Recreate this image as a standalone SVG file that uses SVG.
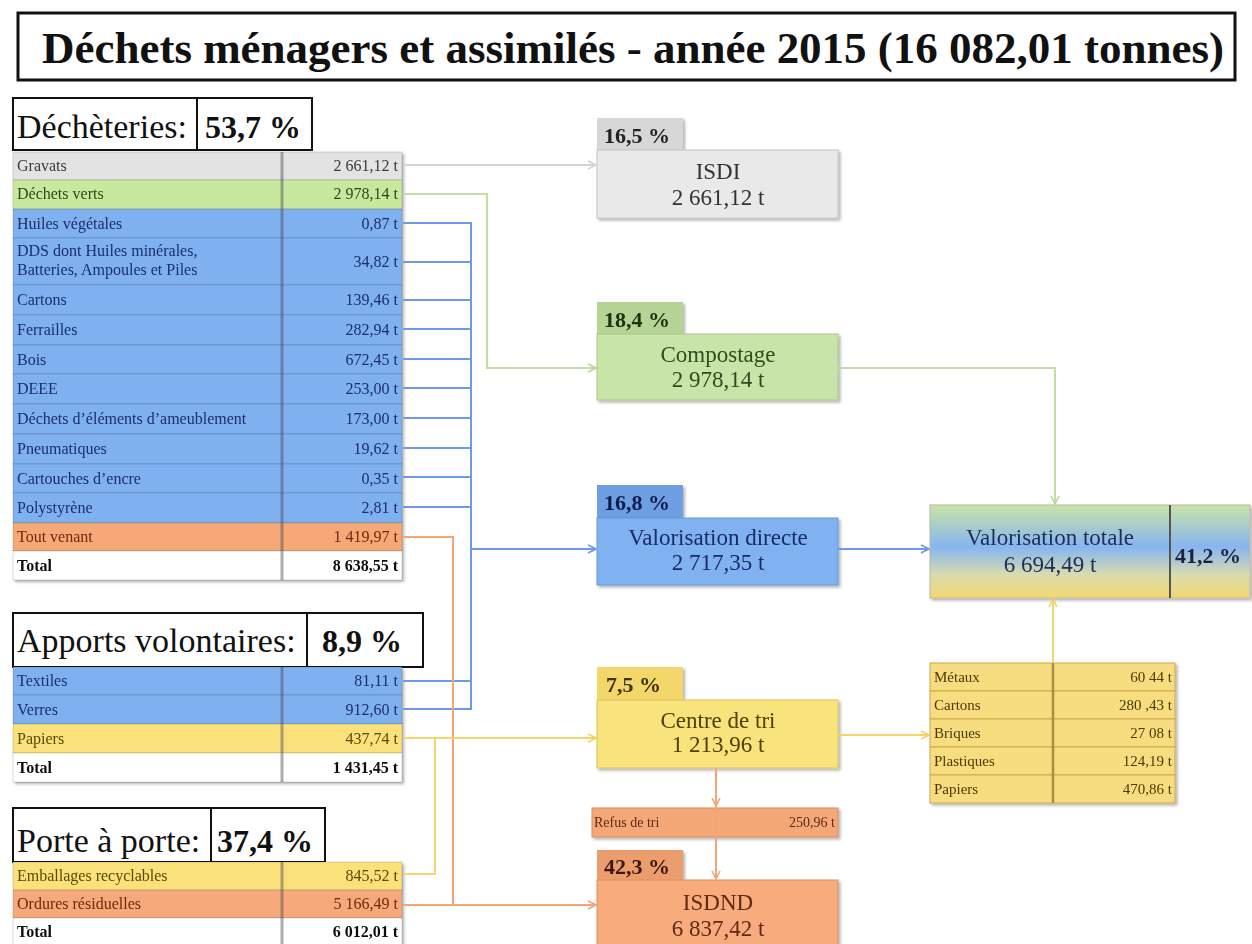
<svg xmlns="http://www.w3.org/2000/svg" width="1252" height="944" viewBox="0 0 1252 944">
<style>
text{font-family:"Liberation Serif","Times New Roman",serif}
.row{font-size:16px}
.val{font-size:16px;text-anchor:end}
.b{font-weight:bold}
.hdr{font-size:34px;fill:#111}
.hdrp{font-size:32px;font-weight:bold;fill:#111}
.hbox{fill:#fff;stroke:#111;stroke-width:2}
.tab{font-size:22px;font-weight:bold}
.bt{font-size:23px;text-anchor:middle}
.sep{stroke:rgba(0,0,0,0.14);stroke-width:1}
.div{stroke:rgba(70,70,80,0.45);stroke-width:3}
.blue rect{fill:#7fb1f1}
.blue text{fill:#1b2e6c}
.ln{fill:none;stroke-width:2}
.rt{font-size:15px;fill:#4a3a00}
.rv{font-size:15px;fill:#4a3a00;text-anchor:end}
</style>
<defs>
<filter id="sh" x="-5%" y="-5%" width="115%" height="125%">
<feDropShadow dx="2" dy="2" stdDeviation="1.5" flood-color="#000" flood-opacity="0.3"/>
</filter>
<linearGradient id="vt" x1="0" y1="0" x2="0" y2="1">
<stop offset="0" stop-color="#cae4a6"/>
<stop offset="0.45" stop-color="#86b5f0"/>
<stop offset="0.75" stop-color="#d9dcae"/>
<stop offset="1" stop-color="#f4d872"/>
</linearGradient>
<marker id="aGrey" markerUnits="userSpaceOnUse" markerWidth="10" markerHeight="10" refX="9" refY="5" orient="auto"><path d="M1,1 L9,5 L1,9" fill="none" stroke="#d4d4d4" stroke-width="1.6"/></marker>
<marker id="aGreen" markerUnits="userSpaceOnUse" markerWidth="10" markerHeight="10" refX="9" refY="5" orient="auto"><path d="M1,1 L9,5 L1,9" fill="none" stroke="#b9d699" stroke-width="1.6"/></marker>
<marker id="aBlue" markerUnits="userSpaceOnUse" markerWidth="10" markerHeight="10" refX="9" refY="5" orient="auto"><path d="M1,1 L9,5 L1,9" fill="none" stroke="#6d9ae6" stroke-width="1.6"/></marker>
<marker id="aOrange" markerUnits="userSpaceOnUse" markerWidth="10" markerHeight="10" refX="9" refY="5" orient="auto"><path d="M1,1 L9,5 L1,9" fill="none" stroke="#f2a577" stroke-width="1.6"/></marker>
<marker id="aYellow" markerUnits="userSpaceOnUse" markerWidth="10" markerHeight="10" refX="9" refY="5" orient="auto"><path d="M1,1 L9,5 L1,9" fill="none" stroke="#f3d065" stroke-width="1.6"/></marker>
</defs>
<rect width="1252" height="944" fill="#fff"/>

<g id="title">
<rect x="18" y="13" width="1217" height="67" fill="#fff" stroke="#111" stroke-width="3"/>
<text x="42" y="63" font-size="45" font-weight="bold" fill="#111" textLength="1182" lengthAdjust="spacingAndGlyphs">Déchets ménagers et assimilés - année 2015 (16 082,01 tonnes)</text>
</g>

<g id="dechetteries-header">
<rect class="hbox" x="13" y="98" width="299" height="52"/>
<line x1="197" y1="98" x2="197" y2="150" stroke="#111" stroke-width="2"/>
<text class="hdr" x="17" y="138">Déchèteries:</text>
<text class="hdrp" x="205" y="138">53,7 %</text>
</g>

<g id="dechetteries-table" filter="url(#sh)">
<rect x="13" y="152" width="389" height="28" fill="#e3e3e3" class="sep"/>
<text class="row" x="17" y="171" fill="#3a3a3a">Gravats</text><text class="val" x="398" y="171" fill="#3a3a3a">2 661,12 t</text>
<rect x="13" y="180" width="389" height="29" fill="#c8e89e" class="sep"/>
<text class="row" x="17" y="199" fill="#2e4a18">Déchets verts</text><text class="val" x="398" y="199" fill="#2e4a18">2 978,14 t</text>
<g class="blue">
<rect x="13" y="209" width="389" height="29" class="sep"/>
<text class="row" x="17" y="229">Huiles végétales</text><text class="val" x="398" y="229">0,87 t</text>
<rect x="13" y="238" width="389" height="47" class="sep"/>
<text class="row" x="17" y="256">DDS dont Huiles minérales,</text><text class="row" x="17" y="275">Batteries, Ampoules et Piles</text><text class="val" x="398" y="267">34,82 t</text>
<rect x="13" y="285" width="389" height="30" class="sep"/>
<text class="row" x="17" y="305">Cartons</text><text class="val" x="398" y="305">139,46 t</text>
<rect x="13" y="315" width="389" height="30" class="sep"/>
<text class="row" x="17" y="335">Ferrailles</text><text class="val" x="398" y="335">282,94 t</text>
<rect x="13" y="345" width="389" height="29" class="sep"/>
<text class="row" x="17" y="365">Bois</text><text class="val" x="398" y="365">672,45 t</text>
<rect x="13" y="374" width="389" height="30" class="sep"/>
<text class="row" x="17" y="394">DEEE</text><text class="val" x="398" y="394">253,00 t</text>
<rect x="13" y="404" width="389" height="30" class="sep"/>
<text class="row" x="17" y="424">Déchets d’éléments d’ameublement</text><text class="val" x="398" y="424">173,00 t</text>
<rect x="13" y="434" width="389" height="30" class="sep"/>
<text class="row" x="17" y="454">Pneumatiques</text><text class="val" x="398" y="454">19,62 t</text>
<rect x="13" y="464" width="389" height="29" class="sep"/>
<text class="row" x="17" y="484">Cartouches d’encre</text><text class="val" x="398" y="484">0,35 t</text>
<rect x="13" y="493" width="389" height="30" class="sep"/>
<text class="row" x="17" y="513">Polystyrène</text><text class="val" x="398" y="513">2,81 t</text>
</g>
<rect x="13" y="523" width="389" height="28" fill="#f6a877" class="sep"/>
<text class="row" x="17" y="542" fill="#6e2a0c">Tout venant</text><text class="val" x="398" y="542" fill="#6e2a0c">1 419,97 t</text>
<rect x="13" y="551" width="389" height="29" fill="#fff" class="sep"/>
<text class="row b" x="17" y="571" fill="#111">Total</text><text class="val b" x="398" y="571" fill="#111">8 638,55 t</text>
<line class="div" x1="282" y1="152" x2="282" y2="580"/>
</g>

<g id="apports-header">
<rect class="hbox" x="13" y="613" width="410" height="54"/>
<line x1="307" y1="613" x2="307" y2="667" stroke="#111" stroke-width="2"/>
<text class="hdr" x="17" y="652">Apports volontaires:</text>
<text class="hdrp" x="322" y="652">8,9 %</text>
</g>

<g id="apports-table" filter="url(#sh)">
<g class="blue">
<rect x="13" y="667" width="389" height="28" class="sep"/>
<text class="row" x="17" y="686">Textiles</text><text class="val" x="398" y="686">81,11 t</text>
<rect x="13" y="695" width="389" height="29" class="sep"/>
<text class="row" x="17" y="715">Verres</text><text class="val" x="398" y="715">912,60 t</text>
</g>
<rect x="13" y="724" width="389" height="29" fill="#fbe17c" class="sep"/>
<text class="row" x="17" y="744" fill="#5a4800">Papiers</text><text class="val" x="398" y="744" fill="#5a4800">437,74 t</text>
<rect x="13" y="753" width="389" height="29" fill="#fff" class="sep"/>
<text class="row b" x="17" y="773" fill="#111">Total</text><text class="val b" x="398" y="773" fill="#111">1 431,45 t</text>
<line class="div" x1="282" y1="667" x2="282" y2="782"/>
</g>

<g id="porte-header">
<rect class="hbox" x="13" y="808" width="312" height="54"/>
<line x1="211" y1="808" x2="211" y2="862" stroke="#111" stroke-width="2"/>
<text class="hdr" x="17" y="852">Porte à porte:</text>
<text class="hdrp" x="217" y="852">37,4 %</text>
</g>

<g id="porte-table" filter="url(#sh)">
<rect x="13" y="862" width="389" height="28" fill="#fbe17c" class="sep"/>
<text class="row" x="17" y="881" fill="#5a4800">Emballages recyclables</text><text class="val" x="398" y="881" fill="#5a4800">845,52 t</text>
<rect x="13" y="890" width="389" height="28" fill="#f6aa7c" class="sep"/>
<text class="row" x="17" y="909" fill="#6e2a0c">Ordures résiduelles</text><text class="val" x="398" y="909" fill="#6e2a0c">5 166,49 t</text>
<rect x="13" y="918" width="389" height="28" fill="#fff" class="sep"/>
<text class="row b" x="17" y="937" fill="#111">Total</text><text class="val b" x="398" y="937" fill="#111">6 012,01 t</text>
<line class="div" x1="282" y1="862" x2="282" y2="946"/>
</g>

<g id="isdi" filter="url(#sh)">
<rect x="597" y="118" width="86" height="32" fill="#d7d7d7"/>
<text class="tab" x="604" y="143" fill="#222">16,5 %</text>
<rect x="597" y="150" width="241" height="68" fill="#e9e9e9" stroke="#c4c4c4"/>
<text class="bt" x="718" y="179" fill="#333">ISDI</text>
<text class="bt" x="718" y="205" fill="#333">2 661,12 t</text>
</g>

<g id="compostage" filter="url(#sh)">
<rect x="597" y="302" width="86" height="32" fill="#b7d497"/>
<text class="tab" x="604" y="327" fill="#1e3210">18,4 %</text>
<rect x="597" y="334" width="241" height="66" fill="#c8e4a8" stroke="#a9c68a"/>
<text class="bt" x="718" y="362" fill="#2d4d1d">Compostage</text>
<text class="bt" x="718" y="387" fill="#2d4d1d">2 978,14 t</text>
</g>

<g id="valorisation-directe" filter="url(#sh)">
<rect x="597" y="485" width="86" height="33" fill="#6e9fe2"/>
<text class="tab" x="604" y="510" fill="#0f1e4e">16,8 %</text>
<rect x="597" y="518" width="241" height="67" fill="#80b1f1" stroke="#6b98d8"/>
<text class="bt" x="718" y="545" fill="#1a2b66">Valorisation directe</text>
<text class="bt" x="718" y="570" fill="#1a2b66">2 717,35 t</text>
</g>

<g id="valorisation-totale" filter="url(#sh)">
<rect x="930" y="505" width="320" height="93" fill="url(#vt)" stroke="#b8b8a0"/>
<line x1="1170" y1="505" x2="1170" y2="598" stroke="#555" stroke-width="2"/>
<text class="bt" x="1050" y="545" fill="#1e2d55">Valorisation totale</text>
<text class="bt" x="1050" y="572" fill="#1e2d55">6 694,49 t</text>
<text class="tab" x="1175" y="563" fill="#1a2244">41,2 %</text>
</g>

<g id="centre-de-tri" filter="url(#sh)">
<rect x="597" y="667" width="86" height="33" fill="#f3d76a"/>
<text class="tab" x="606" y="692" fill="#3a3000">7,5 %</text>
<rect x="597" y="700" width="241" height="68" fill="#f9e37c" stroke="#dcc25e"/>
<text class="bt" x="718" y="728" fill="#4d4000">Centre de tri</text>
<text class="bt" x="718" y="752" fill="#4d4000">1 213,96 t</text>
</g>

<g id="refus-de-tri" filter="url(#sh)">
<rect x="592" y="808" width="246" height="29" fill="#f4a878" stroke="#d88d60"/>
<text x="594" y="827" font-size="14" fill="#5e2a12">Refus de tri</text>
<text x="835" y="827" font-size="14" fill="#5e2a12" text-anchor="end">250,96 t</text>
</g>

<g id="isdnd" filter="url(#sh)">
<rect x="597" y="850" width="86" height="30" fill="#eb9d6d"/>
<text class="tab" x="604" y="874" fill="#3e1808">42,3 %</text>
<rect x="597" y="880" width="241" height="70" fill="#f8ab7c" stroke="#dc9063"/>
<text class="bt" x="718" y="910" fill="#5e2a12">ISDND</text>
<text class="bt" x="718" y="936" fill="#5e2a12">6 837,42 t</text>
</g>

<g id="tri-table" filter="url(#sh)">
<rect x="930" y="663" width="245" height="28" fill="#f8dc80" stroke="#c9a84a"/>
<text class="rt" x="934" y="682">Métaux</text><text class="rv" x="1172" y="682">60 44 t</text>
<rect x="930" y="691" width="245" height="28" fill="#f8dc80" stroke="#c9a84a"/>
<text class="rt" x="934" y="710">Cartons</text><text class="rv" x="1172" y="710">280 ,43 t</text>
<rect x="930" y="719" width="245" height="28" fill="#f8dc80" stroke="#c9a84a"/>
<text class="rt" x="934" y="738">Briques</text><text class="rv" x="1172" y="738">27 08 t</text>
<rect x="930" y="747" width="245" height="28" fill="#f8dc80" stroke="#c9a84a"/>
<text class="rt" x="934" y="766">Plastiques</text><text class="rv" x="1172" y="766">124,19 t</text>
<rect x="930" y="775" width="245" height="28" fill="#f8dc80" stroke="#c9a84a"/>
<text class="rt" x="934" y="794">Papiers</text><text class="rv" x="1172" y="794">470,86 t</text>
<line x1="1053" y1="663" x2="1053" y2="803" stroke="#a8904a" stroke-width="2.5"/>
</g>

<g id="connectors">
<path class="ln" stroke="#d4d4d4" d="M403,165 H596" marker-end="url(#aGrey)"/>
<path class="ln" stroke="#c3dda3" d="M403,194 H487 V368 H596" marker-end="url(#aGreen)"/>
<path class="ln" stroke="#c3dda3" d="M838,368 H1055 V504" marker-end="url(#aGreen)"/>
<path class="ln" stroke="#6d9ae6" d="M403,223 H471 M403,262 H471 M403,300 H471 M403,329 H471 M403,359 H471 M403,388 H471 M403,418 H471 M403,448 H471 M403,477 H471 M403,507 H471 M403,681 H471 M403,709 H471 M471,222 V710"/>
<path class="ln" stroke="#6d9ae6" d="M471,549 H596" marker-end="url(#aBlue)"/>
<path class="ln" stroke="#6d9ae6" d="M838,549 H929" marker-end="url(#aBlue)"/>
<path class="ln" stroke="#f2a577" d="M403,537 H453 V905"/>
<path class="ln" stroke="#f2a577" d="M403,905 H596" marker-end="url(#aOrange)"/>
<path class="ln" stroke="#f2a577" d="M716,768 V806" marker-end="url(#aOrange)"/>
<path class="ln" stroke="#f2a577" d="M716,806 V879" marker-end="url(#aOrange)"/>
<path class="ln" stroke="#f5d46a" d="M403,874 H435 V738"/>
<path class="ln" stroke="#f5d46a" d="M403,738 H596" marker-end="url(#aYellow)"/>
<path class="ln" stroke="#f5d46a" d="M838,735 H929" marker-end="url(#aYellow)"/>
<path class="ln" stroke="#f5d46a" d="M1053,663 V599" marker-end="url(#aYellow)"/>
</g>
</svg>
